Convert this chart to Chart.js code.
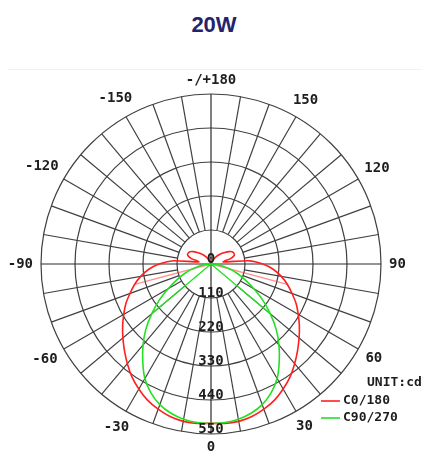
<!DOCTYPE html>
<html><head><meta charset="utf-8">
<script src="https://cdn.jsdelivr.net/npm/chart.js@4.4.0/dist/chart.umd.min.js"></script>
<style>
html,body{margin:0;padding:0;background:#fff;}
#wrap{position:relative;width:422px;height:452px;overflow:hidden;}
#title{position:absolute;left:3px;top:14px;width:422px;text-align:center;font:bold 22px "Liberation Sans",Arial,sans-serif;color:#25236a;line-height:22px;}
#frame{position:absolute;left:8px;top:69px;width:414px;height:0;border-top:1px solid #f2f2f2;}
canvas{position:absolute;left:0;top:0;}
</style></head><body>
<div id="wrap"><div id="title">20W</div><div id="frame"></div><canvas id="c" width="422" height="452"></canvas></div>
<script>
// Angles (deg) clockwise from the top of the diagram
const angles = [180,175,170,165,160,155,150,145,140,135,130,125,120,115,110,105,100,95,90,85,80,75,70,65,60,55,50,45,40,35,30,25,20,15,10,5,0,
  -5,-10,-15,-20,-25,-30,-35,-40,-45,-50,-55,-60,-65,-70,-75,-80,-85,-90,-95,-100,-105,-110,-115,-120,-125,-130,-135,-140,-145,-150,-155,-160,-165,-170,-175];
// Luminous intensity, cd
const c0_180 = [0,1,3,6,9,14,20,28,38,48,58,70,79,82,80,64,40,121,168,203,231,256,279,304,326,349,372,396,421,446,467,486,500,511,517,518,515,
  518,517,511,500,486,467,446,421,396,372,349,326,304,279,256,231,203,168,121,40,64,80,82,79,70,58,48,38,28,20,14,9,6,3,1];
const c90_270 = [0,0,0,0,0,0,0,0,0,0,0,0,0,0,0,0,0,0,0,18,40,64,92,122,160,205,250,298,342,385,428,460,484,500,510,515,516,
  515,510,500,484,460,428,385,342,298,250,205,160,122,92,64,40,18,0,0,0,0,0,0,0,0,0,0,0,0,0,0,0,0,0,0];
// stray radial strokes of the original plot (angle, value)
const strayC0Angles = [75,-75];
const strayC0Values = [256,256];
const strayC90Angles = [50,-50];
const strayC90Values = [250,250];
const ringTicks = [0,110,220,330,440,550];
const labeledAngles = [180,150,120,90,60,30,0,-30,-60,-90,-120,-150];
const seriesNames = ['C0/180','C90/270'];
const unitText = 'UNIT:cd';

function strayData(as, vs){
  const arr = angles.map(() => null);
  as.forEach((a,k) => {
    const i = angles.indexOf(a);
    arr[i] = vs[k];
    arr[a > 0 ? i-1 : i+1] = 0;
  });
  return arr;
}

const geometry = {
  id:'geometry',
  afterLayout(chart){
    const s = chart.scales.r;
    s.xCenter = 211; s.yCenter = 264; s.drawingArea = 170;
  }
};

const labelsPlugin = {
  id:'labelsPlugin',
  afterDatasetsDraw(chart){
    const s = chart.scales.r, ctx = chart.ctx;
    ctx.save();
    ctx.fillStyle = '#1e1e1e';
    ctx.textAlign = 'center'; ctx.textBaseline = 'middle';
    ctx.font = 'bold 14px "DejaVu Sans Mono", monospace';
    ringTicks.forEach(v => {
      const d = s.getDistanceFromCenterForValue(v);
      ctx.fillText(String(v), s.xCenter, s.yCenter + d - 5);
    });
    labeledAngles.forEach(a => {
      const i = angles.indexOf(a);
      const text = a === 180 ? '-/+180' : String(a);
      const w = ctx.measureText(text).width;
      const rad = a*Math.PI/180;
      const ext = Math.abs(Math.sin(rad))*w/2 + Math.abs(Math.cos(rad))*5.5;
      const p = s.getPointPosition(i, s.drawingArea + 8 + ext);
      ctx.fillText(text, p.x, p.y);
    });
    // legend
    ctx.font = 'bold 13px "DejaVu Sans Mono", monospace';
    ctx.textAlign = 'left';
    ctx.fillText(unitText, 367, 383);
    const cols = ['#ff1f1f','#22e022'];
    [401,418].forEach((y,k) => {
      ctx.strokeStyle = cols[k]; ctx.lineWidth = 1.6;
      ctx.beginPath(); ctx.moveTo(321,y); ctx.lineTo(340,y); ctx.stroke();
      ctx.fillText(seriesNames[k], 343, y);
    });
    ctx.restore();
  }
};

new Chart(document.getElementById('c'), {
  type:'radar',
  data:{
    labels: angles.map(String),
    datasets:[
      {label:'C90/270', data:c90_270, borderColor:'#22e022', borderWidth:1.6, pointRadius:0, fill:false, tension:0.2},
      {label:'C0/180', data:c0_180, borderColor:'#ff1f1f', borderWidth:1.6, pointRadius:0, fill:false, tension:0.2},
      {label:'s0', data:strayData(strayC0Angles,strayC0Values), borderColor:'rgba(255,40,40,0.5)', borderWidth:1.3, pointRadius:0, fill:false, tension:0, spanGaps:false},
      {label:'s90', data:strayData(strayC90Angles,strayC90Values), borderColor:'#22e022', borderWidth:1.3, pointRadius:0, fill:false, tension:0, spanGaps:false}
    ]
  },
  options:{
    responsive:false, animation:false, devicePixelRatio:1,
    plugins:{legend:{display:false}, tooltip:{enabled:false}, title:{display:false}},
    scales:{
      r:{
        min:0, max:550, startAngle:0,
        ticks:{stepSize:110, display:false},
        grid:{circular:true, color:'#404040', lineWidth:1.2},
        angleLines:{
          color: c => (c.index % 18 === 0 ? '#2a2a2a' : '#404040'),
          lineWidth: c => (c.index % 2 === 0 ? 1.2 : 0),
          borderDash: c => (c.index % 18 === 0 ? [] : [136,34]),
          borderDashOffset: c => (c.index % 18 === 0 ? 0 : 136)
        },
        pointLabels:{display:false}
      }
    }
  },
  plugins:[geometry, labelsPlugin]
});
</script>
</body></html>
